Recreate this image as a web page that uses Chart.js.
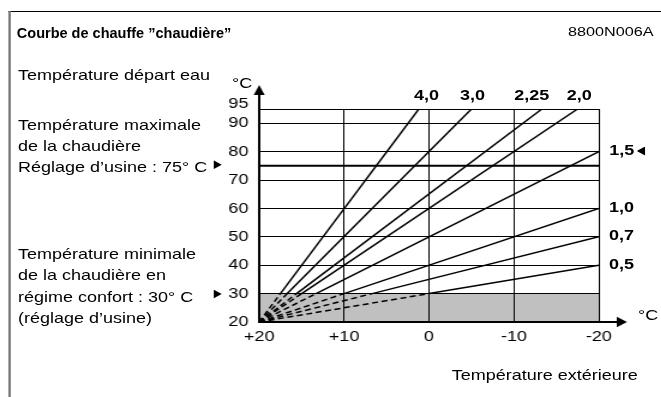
<!DOCTYPE html>
<html lang="fr">
<head>
<meta charset="utf-8">
<title>Courbe de chauffe chaudière</title>
<script src="https://cdn.jsdelivr.net/npm/chart.js@4/dist/chart.umd.min.js"></script>
<style>
  html, body { margin: 0; padding: 0; background: #fff; overflow: hidden; }
  #stage {
    position: absolute; left: 0; top: 0; width: 551px; height: 397px;
    transform: scaleX(1.2); transform-origin: 0 0;
    font-family: 'Liberation Sans', Arial, Helvetica, sans-serif; color: #000;
  }
  #stage canvas { position: absolute; left: 0; top: 0; }
  .t { position: absolute; white-space: nowrap; font-size: 15px; line-height: 1; }
  .b { font-weight: bold; }
  .frame-top { position: absolute; left: 7px; top: 11px; width: 560px; height: 1px; background: #000; }
  .frame-left { position: absolute; left: 7px; top: 11px; width: 1.5px; height: 400px; background: #7a7a7a; }
  .tri-r, .tri-l { position: absolute; width: 7px; height: 9px; background: #000; }
  .tri-r { clip-path: polygon(0 0, 100% 50%, 0 100%); }
  .tri-l { clip-path: polygon(100% 0, 0 50%, 100% 100%); }
</style>
</head>
<body>
<div id="stage">
  <div class="frame-top"></div>
  <div class="frame-left"></div>
  <canvas id="chart" width="551" height="397"></canvas>

  <div class="t b" style="left:14px; top:25.3px; font-size:15.5px; transform:scaleX(0.78); transform-origin:0 0;">Courbe de chauffe ”chaudière”</div>
  <div class="t" style="left:473.3px; top:24.6px; font-size:13.5px;">8800N006A</div>

  <div class="t" style="left:15px; top:67.3px;">Température départ eau</div>
  <div class="t" style="left:15px; top:116.7px;">Température maximale</div>
  <div class="t" style="left:15px; top:137.7px;">de la chaudière</div>
  <div class="t" style="left:15px; top:158.7px;">Réglage d’usine : 75° C</div>
  <div class="tri-r" style="left:177.8px; top:160.2px;"></div>
  <div class="t" style="left:15px; top:245.8px;">Température minimale</div>
  <div class="t" style="left:15px; top:267.3px;">de la chaudière en</div>
  <div class="t" style="left:15px; top:288.8px;">régime confort : 30° C</div>
  <div class="tri-r" style="left:177.8px; top:289.5px;"></div>
  <div class="t" style="left:15px; top:310.3px;">(réglage d’usine)</div>

  <div class="t" style="left:193.3px; top:75.3px;">°C</div>
  <div class="t" style="left:531.7px; top:306.8px;">°C</div>
  <div class="t" style="left:376.4px; top:367.3px;">Température extérieure</div>

  <div class="t b" style="left:345px; top:87.3px;">4,0</div>
  <div class="t b" style="left:383.3px; top:87.3px;">3,0</div>
  <div class="t b" style="left:428.6px; top:87.3px;">2,25</div>
  <div class="t b" style="left:472.2px; top:87.3px;">2,0</div>
  <div class="t b" style="left:507.7px; top:141.8px;">1,5</div>
  <div class="tri-l" style="left:530.6px; top:146.5px;"></div>
  <div class="t b" style="left:507.5px; top:199.3px;">1,0</div>
  <div class="t b" style="left:507.5px; top:227.3px;">0,7</div>
  <div class="t b" style="left:507.5px; top:255.8px;">0,5</div>
</div>

<script>
// Outdoor temperature axis (°C), drawn from +20 on the left to -20 on the right
const outdoorTemps = [20, 10, 0, -10, -20];
const outdoorLabels = ['+20', '+10', '0', '-10', '-20'];
// Flow temperature axis (°C)
const flowTicks = [20, 30, 40, 50, 60, 70, 80, 90, 95];

// Heating curves: slope name, then three points each
// (common origin, exit of the 30 °C minimum zone, end of the curve)
const curveNames = ['4,0', '3,0', '2,25', '2,0', '1,5', '1,0', '0,7', '0,5'];
const curveOutdoor = [
  [20, 17.5, 1.2],
  [20, 16.7, -5],
  [20, 15.6, -13.3],
  [20, 15, -17.5],
  [20, 13.3, -20],
  [20, 10, -20],
  [20, 6.7, -20],
  [20, 0, -20]
];
const curveFlow = [
  [20, 30, 95],
  [20, 30, 95],
  [20, 30, 95],
  [20, 30, 95],
  [20, 30, 80],
  [20, 30, 60],
  [20, 30, 50],
  [20, 30, 40]
];

// Boiler limits (factory settings)
const maxBoilerTemp = 75;
const minBoilerTemp = 30;

const FONT = "'Liberation Sans', Arial, Helvetica, sans-serif";
const xFirst = outdoorTemps[0];
const xLast = outdoorTemps[outdoorTemps.length - 1];

const datasets = curveNames.map((name, i) => ({
  label: name,
  data: curveOutdoor[i].map((x, j) => ({ x, y: curveFlow[i][j] })),
  borderColor: '#000',
  borderWidth: 1.5,
  pointRadius: 0,
  tension: 0,
  fill: false,
  order: 1,
  // the part below the minimum boiler temperature is dashed
  segment: { borderDash: ctx => (ctx.p0DataIndex === 0 ? [5, 3] : undefined) }
}));

datasets.push({
  label: 'Température maximale',
  data: [{ x: xFirst, y: maxBoilerTemp }, { x: xLast, y: maxBoilerTemp }],
  borderColor: '#000',
  borderWidth: 2,
  pointRadius: 0,
  fill: false,
  order: 1
});

datasets.push({
  label: 'Température minimale',
  data: [{ x: xFirst, y: minBoilerTemp }, { x: xLast, y: minBoilerTemp }],
  borderColor: 'rgba(0,0,0,0)',
  borderWidth: 0,
  backgroundColor: '#c0c0c0',
  pointRadius: 0,
  fill: 'start',
  order: 2
});

// Arrow heads at the end of both axes
const axisArrows = {
  id: 'axisArrows',
  afterDraw(chart) {
    const { ctx, chartArea: a } = chart;
    ctx.save();
    ctx.strokeStyle = '#000';
    ctx.fillStyle = '#000';
    ctx.lineWidth = 2;
    // vertical axis
    ctx.beginPath();
    ctx.moveTo(a.left, a.top);
    ctx.lineTo(a.left, a.top - 14);
    ctx.stroke();
    ctx.beginPath();
    ctx.moveTo(a.left - 4.6, a.top - 14);
    ctx.lineTo(a.left + 4.6, a.top - 14);
    ctx.lineTo(a.left, a.top - 24);
    ctx.closePath();
    ctx.fill();
    // horizontal axis
    ctx.beginPath();
    ctx.moveTo(a.right, a.bottom);
    ctx.lineTo(a.right + 16, a.bottom);
    ctx.stroke();
    ctx.beginPath();
    ctx.moveTo(a.right + 15, a.bottom - 5.3);
    ctx.lineTo(a.right + 15, a.bottom + 5.3);
    ctx.lineTo(a.right + 23.5, a.bottom);
    ctx.closePath();
    ctx.fill();
    ctx.restore();
  }
};

new Chart(document.getElementById('chart'), {
  type: 'line',
  data: { datasets },
  plugins: [axisArrows],
  options: {
    responsive: false,
    animation: false,
    events: [],
    layout: { padding: { left: 0, top: 109, right: 52, bottom: 0 } },
    plugins: { legend: { display: false }, tooltip: { enabled: false }, title: { display: false } },
    scales: {
      x: {
        type: 'linear',
        reverse: true,
        min: xLast,
        max: xFirst,
        afterBuildTicks: s => { s.ticks = outdoorTemps.map(v => ({ value: v })); },
        afterFit: s => { s.height = 75; },
        ticks: {
          autoSkip: false,
          maxRotation: 0,
          padding: 6,
          color: '#000',
          font: { family: FONT, size: 15 },
          callback: v => outdoorLabels[outdoorTemps.indexOf(v)]
        },
        grid: { color: '#000', lineWidth: 1, drawTicks: false, z: 1 },
        border: { color: '#000', width: 2, z: 1 }
      },
      y: {
        type: 'linear',
        min: flowTicks[0],
        max: flowTicks[flowTicks.length - 1],
        afterBuildTicks: s => { s.ticks = flowTicks.map(v => ({ value: v })); },
        afterFit: s => { s.width = 216; },
        ticks: {
          autoSkip: false,
          padding: 9,
          color: '#000',
          font: { family: FONT, size: 15, lineHeight: 0.667 },
          // the top label is lifted so that it clears the 90 label
          callback: v => (v === flowTicks[flowTicks.length - 1] ? [String(v), ''] : String(v))
        },
        grid: { color: '#000', lineWidth: 1, drawTicks: false, z: 1 },
        border: { color: '#000', width: 2, z: 1 }
      }
    }
  }
});
</script>
</body>
</html>
